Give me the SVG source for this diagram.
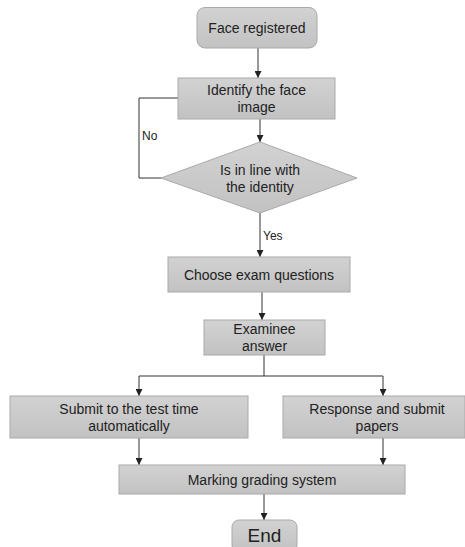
<svg xmlns="http://www.w3.org/2000/svg" width="465" height="547" viewBox="0 0 465 547">
<defs>
<linearGradient id="g" x1="0" y1="0" x2="0" y2="1"><stop offset="0" stop-color="#d2d2d2"/><stop offset="1" stop-color="#c2c2c2"/></linearGradient>
<marker id="ah" viewBox="0 0 10 10" refX="10" refY="5" markerWidth="7" markerHeight="7" markerUnits="userSpaceOnUse" orient="auto"><path d="M0,0 L10,5 L0,10 z" fill="#222"/></marker>
</defs>
<style>
.n{fill:url(#g);stroke:#a9a9a9;stroke-width:1}
.t{font-family:"Liberation Sans",Arial,sans-serif;font-size:14px;fill:#222;text-anchor:middle}
.l{font-family:"Liberation Sans",Arial,sans-serif;font-size:12px;fill:#222}
.c{fill:none;stroke:#333;stroke-width:1}
.a{marker-end:url(#ah)}
</style>
<rect width="465" height="547" fill="#fff"/>
<g id="connectors">
<line class="c a" x1="258" y1="48" x2="258" y2="78"/>
<line class="c a" x1="260" y1="119" x2="260" y2="142"/>
<polyline class="c" points="178,98 139,98 139,178 161,178"/>
<line class="c a" x1="260" y1="213" x2="260" y2="257"/>
<line class="c a" x1="262" y1="292" x2="262" y2="320"/>
<polyline class="c" points="264,355 264,376"/>
<polyline class="c a" points="264,376 139,376 139,396"/>
<polyline class="c a" points="264,376 383,376 383,396"/>
<line class="c a" x1="139" y1="438" x2="139" y2="465"/>
<line class="c a" x1="383" y1="438" x2="383" y2="465"/>
<line class="c a" x1="264" y1="494" x2="264" y2="520"/>
<text class="l" x="142" y="140">No</text>
<text class="l" x="263" y="240">Yes</text>
</g>
<g id="face-registered">
<rect class="n" x="197" y="7.5" width="120" height="40.5" rx="8"/>
<text class="t" x="257" y="33">Face registered</text>
</g>
<g id="identify">
<rect class="n" x="178" y="78" width="157" height="41"/>
<text class="t" x="256.5" y="95">Identify the face</text>
<text class="t" x="256.5" y="112">image</text>
</g>
<g id="decision">
<polygon class="n" points="161,178 260,142 357,178 260,213"/>
<text class="t" x="260" y="175">Is in line with</text>
<text class="t" x="260" y="192">the identity</text>
</g>
<g id="choose">
<rect class="n" x="168" y="257" width="182" height="35"/>
<text class="t" x="259" y="280">Choose exam questions</text>
</g>
<g id="examinee">
<rect class="n" x="204" y="320" width="121" height="35"/>
<text class="t" x="264.5" y="334">Examinee</text>
<text class="t" x="264.5" y="351">answer</text>
</g>
<g id="submit-auto">
<rect class="n" x="10" y="396" width="238" height="42"/>
<text class="t" x="129" y="414">Submit to the test time</text>
<text class="t" x="129" y="431">automatically</text>
</g>
<g id="response">
<rect class="n" x="283" y="396" width="182" height="42"/>
<text class="t" x="377" y="414">Response and submit</text>
<text class="t" x="377" y="431">papers</text>
</g>
<g id="marking">
<rect class="n" x="119" y="465" width="286" height="29"/>
<text class="t" x="262" y="485">Marking grading system</text>
</g>
<g id="end">
<rect class="n" x="232" y="520" width="65" height="32" rx="7"/>
<text class="t" x="264.5" y="542" style="font-size:19px">End</text>
</g>
</svg>
